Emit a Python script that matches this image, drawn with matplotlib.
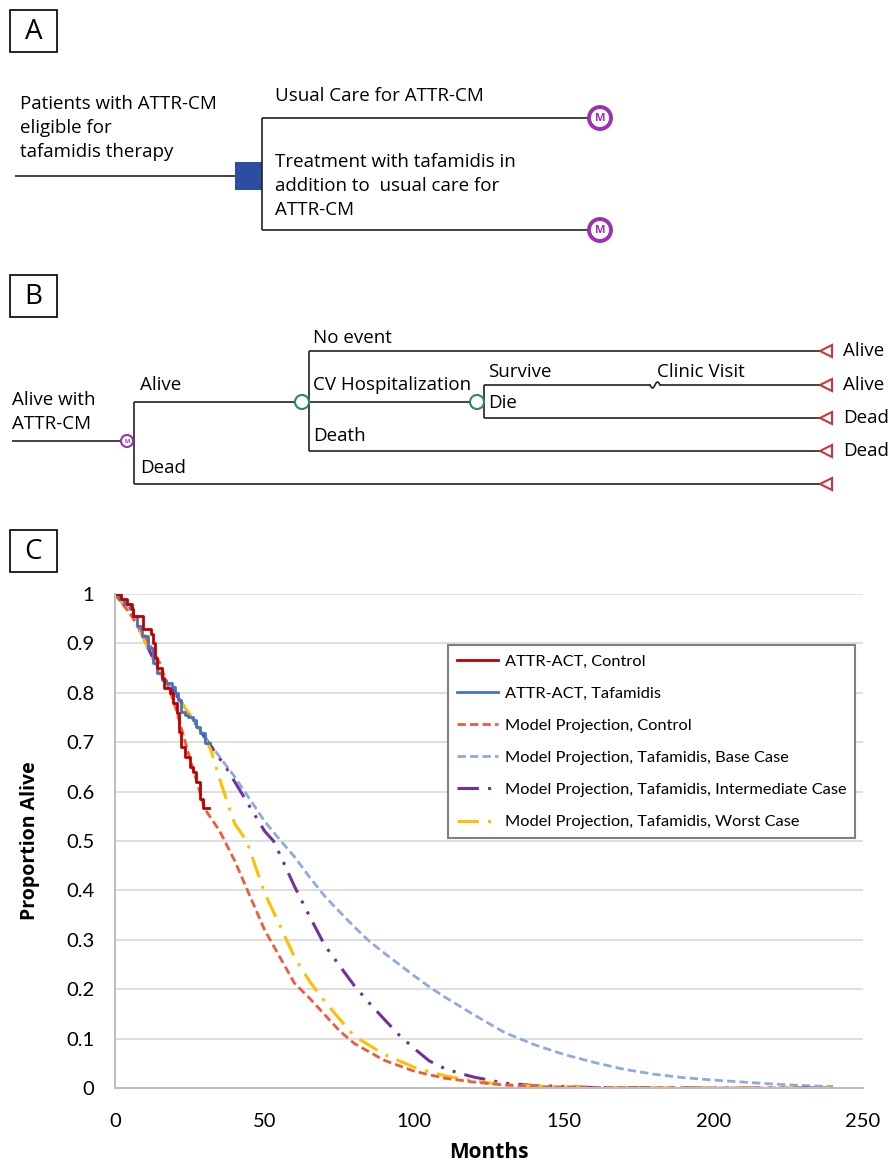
import numpy as np
import matplotlib
matplotlib.use("Agg")
import matplotlib.pyplot as plt
from matplotlib.patches import Circle, Rectangle, Polygon

plt.rcParams['font.family'] = ['Open Sans', 'DejaVu Sans']

# ---- panel C data ----
km_ctrl_m = [0, 2, 4, 5.6, 6, 9.4, 11, 12, 12.8, 13.3, 14, 15.6, 16.5, 18.3, 19.5,
             20.6, 21.5, 22.2, 23.5, 25, 26, 27.2, 28.3, 29.4, 31.5]
km_ctrl_p = [1, 0.99, 0.98, 0.97, 0.955, 0.93, 0.93, 0.92, 0.90, 0.87, 0.85, 0.83,
             0.81, 0.80, 0.78, 0.76, 0.72, 0.69, 0.67, 0.65, 0.64, 0.62, 0.585, 0.566, 0.566]

km_taf_m = [0, 1.5, 3, 5, 6, 7.2, 9, 11, 12.8, 14, 15.6, 17, 18.9, 20, 21.1, 22.2,
            23.5, 24.4, 26.1, 27.2, 28.3, 30, 31.7]
km_taf_p = [1, 0.99, 0.98, 0.97, 0.955, 0.935, 0.915, 0.89, 0.86, 0.84, 0.826, 0.82,
            0.812, 0.80, 0.785, 0.762, 0.755, 0.752, 0.745, 0.73, 0.718, 0.698, 0.698]

proj_ctrl_m = [0, 5, 10, 15, 20, 25, 30, 35, 40, 45, 50, 55, 60, 65, 70, 75, 80, 90,
               100, 110, 120, 130, 140, 160, 200, 240]
proj_ctrl_p = [1, 0.96, 0.915, 0.86, 0.775, 0.668, 0.565, 0.52, 0.46, 0.39, 0.32,
               0.266, 0.212, 0.182, 0.149, 0.116, 0.09, 0.056, 0.034, 0.02, 0.012,
               0.006, 0.003, 0.001, 0, 0]

base_m = [0, 5, 10, 15, 20, 25, 30, 35, 40, 45, 50, 55, 60, 65, 70, 75, 80, 85, 90, 95,
          100, 105, 110, 120, 130, 140, 150, 160, 170, 180, 190, 200, 210, 220, 230, 240]
base_p = [1, 0.965, 0.905, 0.84, 0.8, 0.755, 0.71, 0.67, 0.63, 0.585, 0.54, 0.503,
          0.468, 0.427, 0.389, 0.357, 0.326, 0.297, 0.273, 0.25, 0.227, 0.205, 0.185,
          0.148, 0.113, 0.088, 0.068, 0.052, 0.038, 0.028, 0.021, 0.016, 0.012, 0.008,
          0.005, 0.003]

inter_m = [0, 5, 10, 15, 20, 25, 30, 34, 37, 40, 43, 46, 50, 53, 55, 60, 65, 70, 75,
           80, 85, 90, 95, 100, 105, 110, 115, 120, 130, 140, 160, 200, 240]
inter_p = [1, 0.965, 0.905, 0.84, 0.8, 0.755, 0.71, 0.675, 0.65, 0.62, 0.59, 0.56,
           0.52, 0.5, 0.474, 0.408, 0.348, 0.29, 0.248, 0.207, 0.172, 0.139, 0.107,
           0.08, 0.055, 0.04, 0.03, 0.022, 0.01, 0.005, 0.001, 0, 0]

worst_m = [0, 5, 10, 15, 20, 25, 30, 32, 35, 38, 40, 44, 50, 55, 60, 65, 70, 75, 80,
           90, 100, 110, 120, 130, 140, 160, 200, 240]
worst_p = [1, 0.965, 0.905, 0.84, 0.8, 0.755, 0.71, 0.685, 0.625, 0.57, 0.535, 0.5,
           0.395, 0.33, 0.265, 0.216, 0.176, 0.14, 0.105, 0.068, 0.042, 0.025, 0.014,
           0.007, 0.004, 0.001, 0, 0]

legend_labels = ["ATTR-ACT, Control", "ATTR-ACT, Tafamidis",
                 "Model Projection, Control", "Model Projection, Tafamidis, Base Case",
                 "Model Projection, Tafamidis, Intermediate Case",
                 "Model Projection, Tafamidis, Worst Case"]

# ---- figure ----
W, H = 892, 1165
fig = plt.figure(figsize=(W / 100, H / 100), dpi=100)

ax = fig.add_axes([115 / W, 1 - 1088 / H, 748 / W, 494 / H])
ax.plot(base_m, base_p, color='#8FAADC', lw=2, ls=(0, (3, 1.5)), label=legend_labels[3])
ax.plot(inter_m, inter_p, color='#7030A0', lw=2.2, ls=(0, (7, 3, 1, 3, 1, 3)),
        label=legend_labels[4])
ax.plot(worst_m, worst_p, color='#FFC000', lw=2.2, ls=(0, (7, 3, 1, 3)),
        label=legend_labels[5])
ax.plot(proj_ctrl_m, proj_ctrl_p, color='#F05A3C', lw=2, ls=(0, (3, 1.5)),
        label=legend_labels[2])
ax.plot(km_taf_m, km_taf_p, color='#4472C4', lw=2, drawstyle='steps-post',
        label=legend_labels[1])
ax.plot(km_ctrl_m, km_ctrl_p, color='#C00000', lw=2, drawstyle='steps-post',
        label=legend_labels[0])

ax.set_xlim(0, 250)
ax.set_ylim(0, 1)
ax.set_xticks(np.arange(0, 251, 50))
ax.set_yticks(np.arange(0, 1.01, 0.1))
ax.set_yticklabels(['0'] + ['%.1f' % v for v in np.arange(0.1, 1.0, 0.1)] + ['1'])
ax.tick_params(length=0, labelsize=14.5, labelfontfamily='Lato')
ax.tick_params(axis='y', pad=15)
ax.tick_params(axis='x', pad=18)
ax.grid(axis='y', color='#D9D9D9', lw=1.2)
ax.set_axisbelow(True)
for s in ['top', 'right']:
    ax.spines[s].set_visible(False)
for s in ['left', 'bottom']:
    ax.spines[s].set_color('#BFBFBF')
    ax.spines[s].set_linewidth(1.5)
ax.set_xlabel('Months', fontsize=15, fontweight='bold', labelpad=9)
ax.set_ylabel('Proportion Alive', fontsize=14, fontweight='bold', labelpad=19)

h, l = ax.get_legend_handles_labels()
order = [5, 4, 3, 0, 1, 2]
leg = ax.legend([h[i] for i in order], [l[i] for i in order], loc='upper left',
                bbox_to_anchor=(448 / W, 1 - 645 / H), bbox_transform=fig.transFigure,
                fancybox=False, framealpha=1, edgecolor='#808080',
                labelspacing=1.08, handlelength=2.5, handletextpad=0.4,
                borderpad=0.55, borderaxespad=0, prop={'family': 'Lato', 'size': 11.8})
leg.get_frame().set_linewidth(1.5)

# ---- panels A and B (drawn in pixel coordinates) ----
d = fig.add_axes([0, 0, 1, 1])
d.set_xlim(0, W)
d.set_ylim(H, 0)
d.axis('off')

TXT = 13.5
purple = '#9B30B0'
green = '#2E8B57'
red = '#D0343A'

panel_boxes = [('A', 10, 10), ('B', 10, 275), ('C', 10, 530)]
for lab, bx, by in panel_boxes:
    d.add_patch(Rectangle((bx, by), 47, 42, fill=False, ec='black', lw=1.2))
    d.text(bx + 23.5, by + 22, lab, ha='center', va='center', fontsize=20)


def mnode(x, y, r, lw, fs):
    d.add_patch(Circle((x, y), r, fc='white', ec=purple, lw=lw, zorder=3))
    d.text(x, y + 0.5, 'M', ha='center', va='center', color=purple, fontsize=fs,
           fontweight='bold', zorder=4)


def line(xs, ys, lw=1.2):
    d.plot(xs, ys, color='#222222', lw=lw, solid_capstyle='butt')


# panel A
line([15, 235], [176, 176])
d.add_patch(Rectangle((235, 162), 27, 28, fc='#2B4EA2', ec='none'))
line([262, 262], [118, 230])
line([262, 589], [118, 118])
line([262, 589], [230, 230])
mnode(600, 118, 11, 2.8, 8)
mnode(600, 230, 11, 2.8, 8)
d.text(20, 128, 'Patients with ATTR-CM\neligible for\ntafamidis therapy', fontsize=TXT,
       va='center', linespacing=1.42)
d.text(275, 96, 'Usual Care for ATTR-CM', fontsize=TXT, va='center')
d.text(275, 186, 'Treatment with tafamidis in\naddition to  usual care for\nATTR-CM',
       fontsize=TXT, va='center', linespacing=1.42)

# panel B
line([12, 121], [441, 441])
mnode(127, 441, 6, 1.5, 4)
line([134, 134], [402, 484])
line([134, 295], [402, 402])
line([134, 820], [484, 484])
d.add_patch(Circle((302, 402), 7, fc='white', ec=green, lw=1.5, zorder=3))
line([309, 309], [351, 451])
line([309, 820], [351, 351])
line([309, 470], [402, 402])
line([309, 820], [451, 451])
d.add_patch(Circle((477, 402), 7, fc='white', ec=green, lw=1.5, zorder=3))
line([484, 484], [385, 418])
line([484, 650], [385, 385])
line([660, 820], [385, 385])
line([484, 820], [418, 418])
sq = np.linspace(0, 1, 20)
d.plot(650 + 10 * sq, 385 + 3 * np.sin(sq * 2 * np.pi), color='#222222', lw=1.2)

end_y = [351, 385, 418, 451, 484]
end_lab = ['Alive', 'Alive', 'Dead', 'Dead', '']
for ey, el in zip(end_y, end_lab):
    d.add_patch(Polygon([[820, ey], [832, ey - 6], [832, ey + 6]], closed=True,
                        fc='white', ec=red, lw=1.5, zorder=3))
    if el:
        d.text(843, ey, el, fontsize=TXT, va='center')

d.text(12, 412, 'Alive with\nATTR-CM', fontsize=TXT, va='center', linespacing=1.4)
d.text(140, 385, 'Alive', fontsize=TXT, va='center')
d.text(140, 468, 'Dead', fontsize=TXT, va='center')
d.text(313, 338, 'No event', fontsize=TXT, va='center')
d.text(313, 385, 'CV Hospitalization', fontsize=TXT, va='center')
d.text(313, 436, 'Death', fontsize=TXT, va='center')
d.text(488, 372, 'Survive', fontsize=TXT, va='center')
d.text(488, 403, 'Die', fontsize=TXT, va='center')
d.text(657, 372, 'Clinic Visit', fontsize=TXT, va='center')

fig.savefig('out.png', dpi=100)
